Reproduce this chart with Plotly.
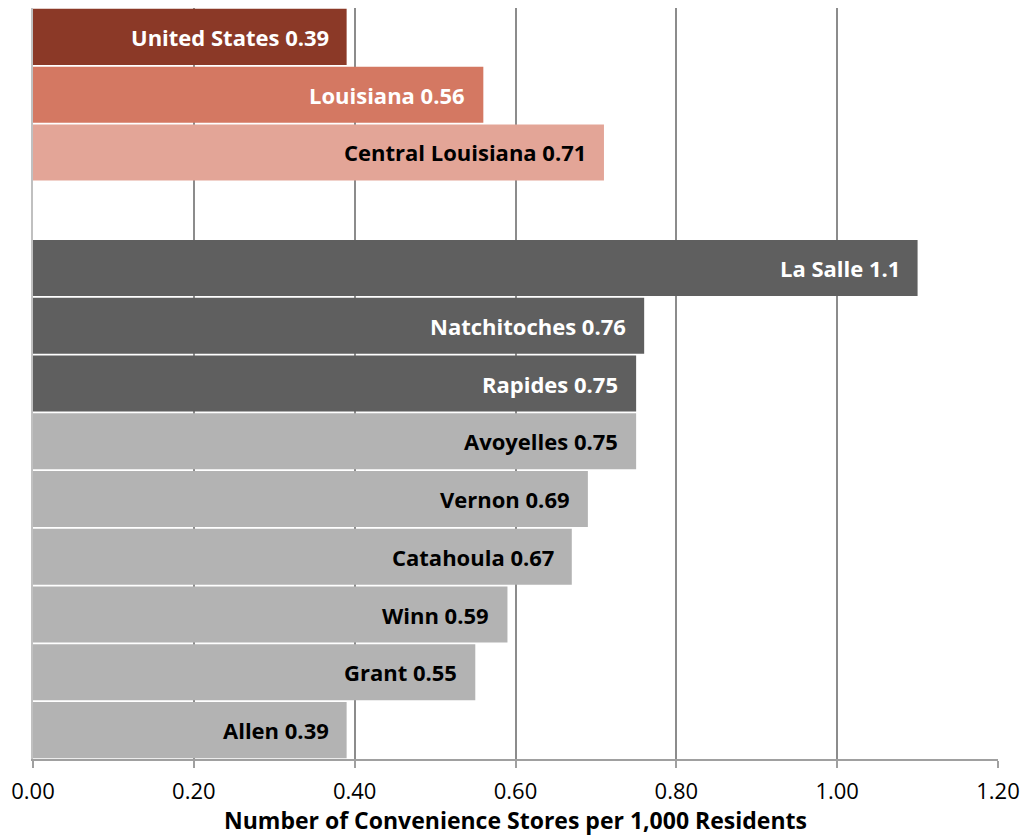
import plotly.graph_objects as go

categories = ["United States", "Louisiana", "Central Louisiana", " ",
              "La Salle", "Natchitoches", "Rapides", "Avoyelles", "Vernon",
              "Catahoula", "Winn", "Grant", "Allen"]
values = [0.39, 0.56, 0.71, None, 1.1, 0.76, 0.75, 0.75, 0.69, 0.67, 0.59, 0.55, 0.39]
value_labels = ["0.39", "0.56", "0.71", "", "1.1", "0.76", "0.75", "0.75", "0.69",
                "0.67", "0.59", "0.55", "0.39"]
bar_colors = ["#8B3927", "#D47862", "#E3A597", "rgba(0,0,0,0)",
              "#5F5F5F", "#5F5F5F", "#5F5F5F", "#B3B3B3", "#B3B3B3",
              "#B3B3B3", "#B3B3B3", "#B3B3B3", "#B3B3B3"]
label_colors = ["white", "white", "black", "black",
                "white", "white", "white", "black", "black",
                "black", "black", "black", "black"]
x_ticks = [0, 0.2, 0.4, 0.6, 0.8, 1.0, 1.2]
x_ticktext = ["0.00", "0.20", "0.40", "0.60", "0.80", "1.00", "1.20"]
x_title = "Number of Convenience Stores per 1,000 Residents"

FONT = "Open Sans"

fig = go.Figure()
fig.add_trace(go.Bar(
    y=categories, x=[v if v is not None else 0 for v in values],
    orientation="h",
    marker=dict(color=bar_colors, line=dict(width=0)),
    hoverinfo="skip",
))

annotations = []
for c, v, vl, col in zip(categories, values, value_labels, label_colors):
    if v is None:
        continue
    annotations.append(dict(
        x=v, y=c, xref="x", yref="y", text=f"<b>{c} {vl}</b>",
        showarrow=False, xanchor="right", yanchor="middle", xshift=-16,
        font=dict(family=FONT, size=22, color=col),
    ))
annotations.append(dict(
    x=0.5, y=0, xref="paper", yref="paper", text=f"<b>{x_title}</b>",
    showarrow=False, xanchor="center", yanchor="middle", yshift=-61,
    font=dict(family=FONT, size=23, color="black"),
))

fig.update_layout(
    width=1024, height=837,
    margin=dict(l=33, r=26, t=8, b=78, autoexpand=False),
    paper_bgcolor="white", plot_bgcolor="white",
    bargap=0.03,
    showlegend=False,
    annotations=annotations,
    xaxis=dict(
        range=[0, 1.2], tickvals=x_ticks, ticktext=x_ticktext,
        showgrid=True, gridcolor="#8C8C8C", gridwidth=1.5,
        showline=True, linecolor="#A0A0A0", linewidth=1.5,
        ticks="outside", ticklen=7, tickcolor="#A0A0A0", tickwidth=1.5,
        tickfont=dict(family=FONT, size=22, color="black"),
        ticklabelstandoff=5,
        automargin=False,
        zeroline=False, fixedrange=True,
    ),
    yaxis=dict(
        categoryorder="array", categoryarray=categories, autorange="reversed",
        showticklabels=False, showgrid=False, ticks="",
        showline=True, linecolor="#C0C0C0", linewidth=1.5,
        automargin=False,
        fixedrange=True,
    ),
)

fig.write_html("out.html", config={"displayModeBar": False},
               post_script="document.body.style.margin='0';document.body.style.overflow='hidden';")
